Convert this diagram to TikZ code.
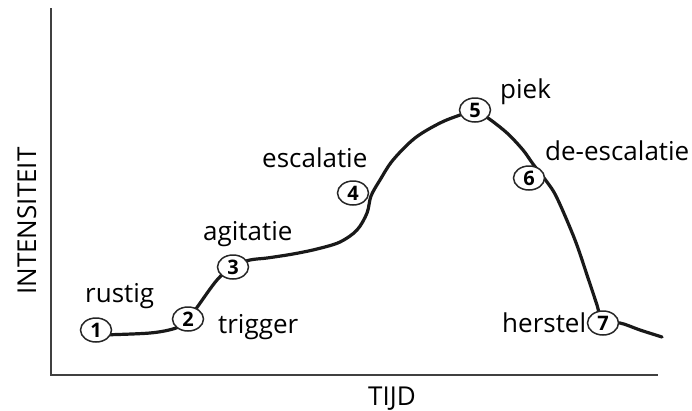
\documentclass[tikz,border=0pt]{standalone}
\usepackage{fontspec}
\usetikzlibrary{shapes.geometric}
\setmainfont{Open Sans}
\begin{document}
\begin{tikzpicture}[x=1pt,y=-1pt,
  lbl/.style={font=\fontsize{26}{30}\selectfont, anchor=base west, inner sep=0pt},
  axlbl/.style={font=\fontsize{26}{30}\selectfont, anchor=base west, inner sep=0pt},
  num/.style={draw=black!85, line width=1.5pt, fill=white, ellipse, minimum width=31pt, minimum height=24pt, font=\fontsize{20}{22}\selectfont\bfseries, inner sep=0pt},
  curve/.style={line width=3.2pt, black!90, line cap=round},
  axis/.style={line width=1.2pt, black!75}]
\useasboundingbox (0,0) rectangle (692,410);
% axes
\coordinate (top) at (51,8);
\coordinate (orig) at (51,375);
\coordinate (right) at (658,375);
\draw[axis] (top) -- (orig) -- (right);
% curve
\draw[curve] plot[smooth, tension=0.55] coordinates {
 (100,335) (150,333) (176,328) (188,320) (198,306) (217,280) (233,266)
 (250,260) (267,258) (293,254) (317,249) (340,242) (357,230) (367,213)
 (371,196) (380,180) (393,160) (415,138) (440,123) (460,115) (475,110)
 (488,118) (507,133) (523,150) (533,164) (547,182) (557,198) (575,240)
 (588,278) (597,305) (603,323) (620,323) (640,330) (662,337)};
% numbered markers
\node[num] (c1) at (96,330) {1};
\node[num] (c2) at (188,319) {2};
\node[num] (c3) at (233,267) {3};
\node[num] (c4) at (353,193) {4};
\node[num] (c5) at (475,110) {5};
\node[num] (c6) at (529,178) {6};
\node[num] (c7) at (603,323) {7};
% labels
\node[lbl] (l1) at (85,302) {rustig};
\node[lbl] (l2) at (218,333) {trigger};
\node[lbl] (l3) at (203,240) {agitatie};
\node[lbl] (l4) at (262,167) {escalatie};
\node[lbl] (l5) at (500,98) {piek};
\node[lbl] (l6) at (545,160) {de-escalatie};
\node[lbl] (l7) at (502,332) {herstel};
\node[axlbl] (tx) at (368,405) {TIJD};
\node[axlbl, rotate=90] (ty) at (36,295) {INTENSITEIT};
\end{tikzpicture}
\end{document}
